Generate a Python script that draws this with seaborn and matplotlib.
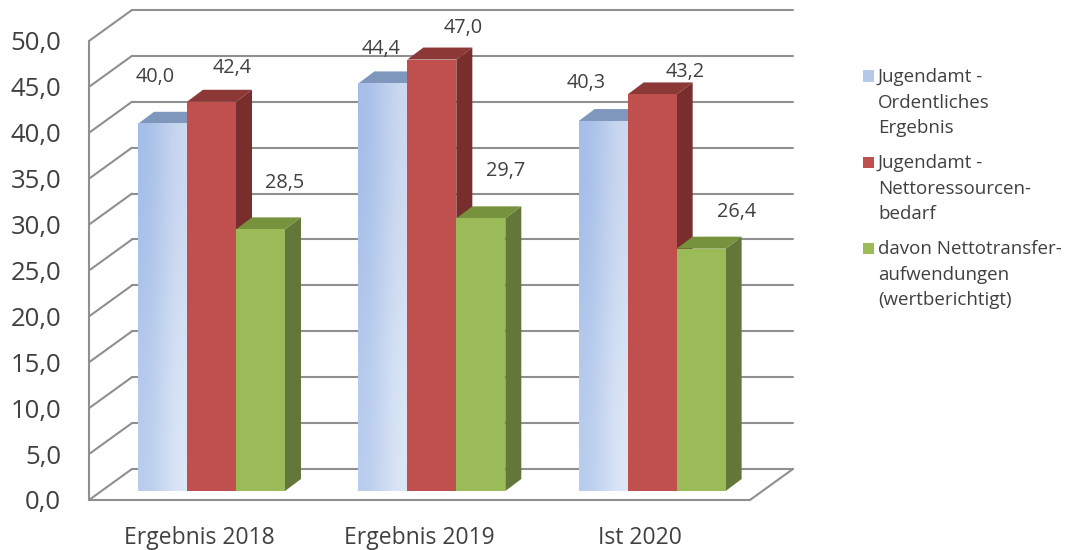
import matplotlib
matplotlib.use('Agg')
import matplotlib.pyplot as plt
import numpy as np
import pandas as pd
import seaborn as sns
from matplotlib.patches import Polygon, Rectangle

# values
categories = ['Ergebnis 2018', 'Ergebnis 2019', 'Ist 2020']
series = ['Jugendamt -\nOrdentliches\nErgebnis',
          'Jugendamt -\nNettoressourcen-\nbedarf',
          'davon Nettotransfer-\naufwendungen\n(wertberichtigt)']
ordentlich = [40.0, 44.4, 40.3]
netto = [42.4, 47.0, 43.2]
transfer = [28.5, 29.7, 26.4]
y_ticks = [0, 5, 10, 15, 20, 25, 30, 35, 40, 45, 50]

# label shift from bar centre / bar top, in pixels
label_shift = [[(-7, 47), (-2, 34), (-17, 38)],
               [(21, 34), (31, 32), (33, 22)],
               [(24, 46), (25, 47), (35, 37)]]

front = ['#b5c8ea', '#c0504d', '#9bbb59']
top = ['#7f96bd', '#8c3836', '#76923c']
side = ['#6f84a8', '#772e2c', '#64773a']
grid_col = '#8f8f8f'
text_col = '#404040'

# 3d look, everything in data units (1 x unit = 220.33 px, 1 y unit = 9.18 px)
wall_dx, wall_dy = 0.195, 3.38
bar_dx, bar_dy = 0.0726, 1.307
base = 0.98
x_left, x_right = -0.556, 2.444

df = pd.DataFrame({
    'kategorie': categories * 3,
    'wert': ordentlich + netto + transfer,
    'serie': [s for s in series for _ in categories],
})

sns.set_theme(style='white')
plt.rcParams['font.family'] = ['Open Sans', 'DejaVu Sans']

fig = plt.figure(figsize=(10.68, 5.5), dpi=100)
ax = fig.add_axes([89 / 1068, 50 / 550, 661 / 1068, 459 / 550])

sns.barplot(data=df, x='kategorie', y='wert', hue='serie', hue_order=series,
            palette=front, saturation=1, width=0.667, gap=0, dodge=True,
            errorbar=None, bottom=base, legend=False, linewidth=0, ax=ax)

# walls
for v in y_ticks:
    ax.plot([x_left, x_left + wall_dx], [v, v + wall_dy], color=grid_col, lw=1.5,
            clip_on=False, zorder=1, solid_capstyle='round')
    ax.plot([x_left + wall_dx, x_right + wall_dx], [v + wall_dy, v + wall_dy],
            color=grid_col, lw=1.5, clip_on=False, zorder=1)
ax.plot([x_left, x_left], [0, 50], color=grid_col, lw=1.5, clip_on=False, zorder=1)
ax.plot([x_left, x_right, x_right + wall_dx], [0, 0, wall_dy], color=grid_col, lw=1.5,
        clip_on=False, zorder=1)

# bar depth, gradient and labels
for i, cont in enumerate(ax.containers):
    for j, bar in enumerate(cont):
        x0, w = bar.get_x(), bar.get_width()
        y0, h = bar.get_y(), bar.get_height()
        x1, y1 = x0 + w, y0 + h
        z = 3 + i
        ax.add_patch(Polygon([(x1, y0), (x1 + bar_dx, y0 + bar_dy),
                              (x1 + bar_dx, y1 + bar_dy), (x1, y1)],
                             facecolor=side[i], edgecolor='none', zorder=z))
        ax.add_patch(Polygon([(x0, y1), (x0 + bar_dx, y1 + bar_dy),
                              (x1 + bar_dx, y1 + bar_dy), (x1, y1)],
                             facecolor=top[i], edgecolor='none', zorder=z))
        bar.set_zorder(z + 0.2)
        if i == 0:
            # the blue bars run lighter to the right and to the bottom
            img = np.array([[[0.64, 0.74, 0.91], [0.80, 0.85, 0.94]],
                            [[0.72, 0.80, 0.93], [0.87, 0.91, 0.97]]])
            ax.imshow(img, extent=(x0, x1, y0, y1), origin='upper', aspect='auto',
                      interpolation='bicubic', zorder=z + 0.3)
        ax.annotate(f'{h:.1f}'.replace('.', ','), (x0 + w / 2, y1),
                    xytext=label_shift[i][j], textcoords='offset pixels',
                    ha='center', va='center', fontsize=14.3, color=text_col,
                    annotation_clip=False, zorder=10)

ax.set_xlim(x_left, x_right)
ax.set_ylim(0, 50)
ax.set_xticks([x_left + 0.5 + k for k in range(3)])
ax.set_xticklabels(categories)
ax.set_yticks(y_ticks)
ax.set_yticklabels([f'{v:.1f}'.replace('.', ',') for v in y_ticks])
ax.tick_params(axis='y', length=0, pad=20, labelsize=18.5, labelcolor=text_col)
ax.tick_params(axis='x', length=0, pad=19, labelsize=16.5, labelcolor=text_col)
ax.set_xlabel('')
ax.set_ylabel('')
ax.patch.set_alpha(0)
sns.despine(ax=ax, left=True, bottom=True)

# legend by hand: the swatch sits on the first line of each entry
W, H = 1068, 550
baseline = 82
for s, col in zip(series, front):
    fig.add_artist(Rectangle((863 / W, 1 - (baseline - 0.5) / H), 11 / W, 11 / H,
                             transform=fig.transFigure, facecolor=col, edgecolor='none'))
    for k, line in enumerate(s.split('\n')):
        fig.text(878 / W, 1 - (baseline + k * 25.5) / H, line, fontsize=13.5,
                 color=text_col, va='baseline')
    baseline += 86

fig.savefig('out.png', dpi=100)
